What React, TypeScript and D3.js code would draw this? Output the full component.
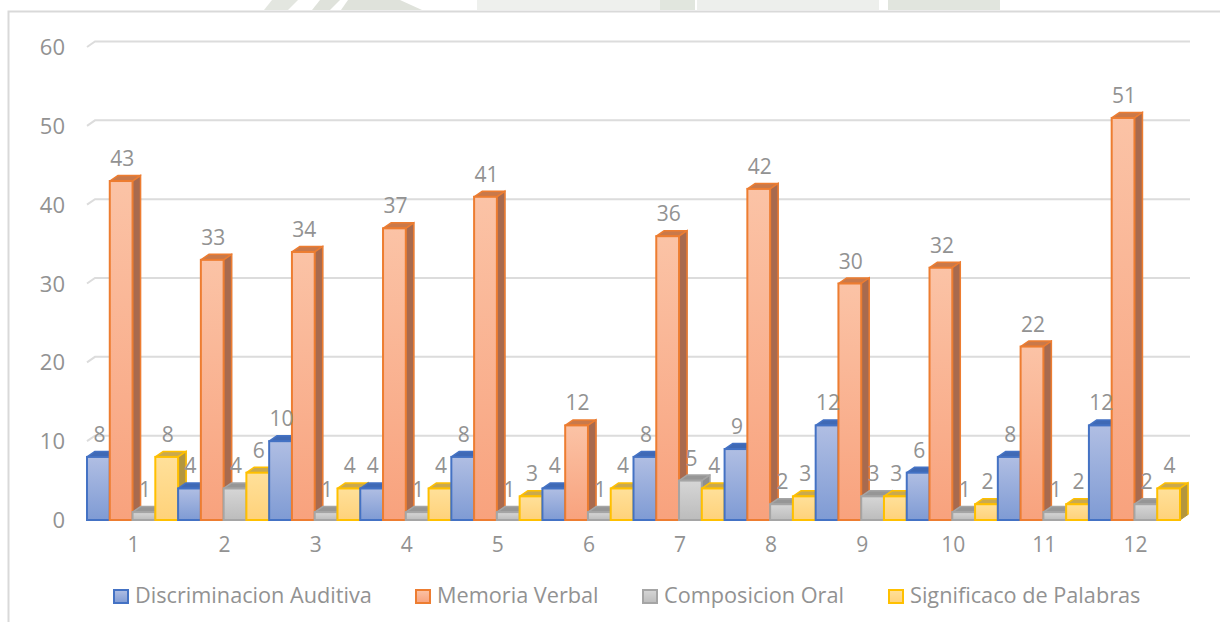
import React from "react";
import * as d3 from "d3";

const categories = ["1","2","3","4","5","6","7","8","9","10","11","12"];
const discriminacion = [8,4,10,4,8,4,8,9,12,6,8,12];
const memoria = [43,33,34,37,41,12,36,42,30,32,22,51];
const composicion = [1,4,1,1,1,1,5,2,3,1,1,2];
const significado = [8,6,4,4,3,4,4,3,3,2,2,4];
const seriesNames = ["Discriminacion Auditiva","Memoria Verbal","Composicion Oral","Significaco de Palabras"];
const yTicks = [0,10,20,30,40,50,60];

const seriesValues = [discriminacion, memoria, composicion, significado];
const styles = [
  { stroke:"#4472c4", top:"#3f69b5", side:"#6b7fa8", a:"#b0bee3", b:"#7f9bd4" },
  { stroke:"#ed7d31", top:"#c9794a", side:"#a86a4e", a:"#fbc3a6", b:"#f8a27d" },
  { stroke:"#a5a5a5", top:"#969696", side:"#8f8f8f", a:"#d6d6d6", b:"#bcbcbc" },
  { stroke:"#ffc000", top:"#c9a94f", side:"#b3963e", a:"#ffe09a", b:"#ffd27a" },
];
const FONT = "'Open Sans', 'Noto Sans', sans-serif";
const TXT = "#929292";
const DX = 8, DY = 5.5;

export default function App() {
  const y = d3.scaleLinear().domain([0,60]).range([520,47]);
  const x0 = d3.scaleBand().domain(categories).range([87,1180]).padding(0);
  const x1 = d3.scaleBand().domain(seriesNames).range([0,x0.bandwidth()]).padding(0);
  const w = x1.bandwidth();
  const legendX = [113,415,642,888];

  return (
    <svg width={1220} height={622} style={{position:"absolute",left:0,top:0,background:"#fff"}}>
      <defs>
        {styles.map((s,i)=>(
          <linearGradient key={i} id={`g${i}`} x1="0" y1="0" x2="0" y2="1">
            <stop offset="0" stopColor={s.a}/><stop offset="1" stopColor={s.b}/>
          </linearGradient>
        ))}
      </defs>
      <path d="M264 10L272 0H298L288 10Z" fill="#e3e6e0"/>
      <path d="M312 10L320 0H340L330 10Z" fill="#dfe2db"/>
      <path d="M341 10L348 0H400L422 10Z" fill="#dfe2db"/>
      <rect x={477} y={0} width={183} height={10} fill="#eef0ed"/>
      <rect x={660} y={0} width={35} height={10} fill="#e1e6de"/>
      <rect x={697} y={0} width={182} height={10} fill="#edefec"/>
      <rect x={888} y={0} width={112} height={10} fill="#e1e5de"/>
      <path d="M8.5 622V11.5H1220" fill="none" stroke="#d9d9d9" strokeWidth={2}/>
      {yTicks.map(t=>{
        const yy = y(t);
        return (
          <g key={t}>
            {t>0 && <path d={`M87 ${yy}L${87+DX} ${yy-DY}H1190`} fill="none" stroke="#dcdcdc" strokeWidth={2}/>}
            <text x={65} y={yy+8} textAnchor="end" fontFamily={FONT} fontSize={22} fill={TXT}>{t}</text>
          </g>
        );
      })}
      {categories.map((c,ci)=>seriesNames.map((n,si)=>{
        const v = seriesValues[si][ci];
        const s = styles[si];
        const bx = x0(c)! + x1(n)!;
        const top = y(v), bot = y(0);
        return (
          <g key={c+n}>
            <path d={`M${bx} ${top}l${DX} ${-DY}h${w}l${-DX} ${DY}z`} fill={s.top} stroke={s.stroke} strokeWidth={1.5} strokeLinejoin="round"/>
            <path d={`M${bx+w} ${top}l${DX} ${-DY}V${bot-DY}l${-DX} ${DY}z`} fill={s.side} stroke={s.side} strokeWidth={1} strokeLinejoin="round"/>
            <path d={`M${bx+w} ${top}l${DX} ${-DY}V${bot-DY}`} fill="none" stroke={s.stroke} strokeWidth={1.5}/>
            <rect x={bx} y={top} width={w} height={bot-top} fill={`url(#g${si})`} stroke={s.stroke} strokeWidth={2}/>
          </g>
        );
      }))}
      {categories.map((c,ci)=>seriesNames.map((n,si)=>{
        const v = seriesValues[si][ci];
        const bx = x0(c)! + x1(n)!;
        return <text key={c+n} x={bx+w/2+1} y={y(v)-15} textAnchor="middle" fontFamily={FONT} fontSize={21} fill={TXT}>{v}</text>;
      }))}
      {categories.map(c=>(
        <text key={c} x={x0(c)!+x0.bandwidth()/2+1} y={552} textAnchor="middle" fontFamily={FONT} fontSize={21} fill={TXT}>{c}</text>
      ))}
      {seriesNames.map((n,i)=>(
        <g key={n}>
          <rect x={legendX[i]+1} y={590} width={14} height={13} fill={`url(#g${i})`} stroke={styles[i].stroke} strokeWidth={2}/>
          <text x={legendX[i]+22} y={603} fontFamily={FONT} fontSize={21.7} fill={TXT}>{n}</text>
        </g>
      ))}
    </svg>
  );
}
